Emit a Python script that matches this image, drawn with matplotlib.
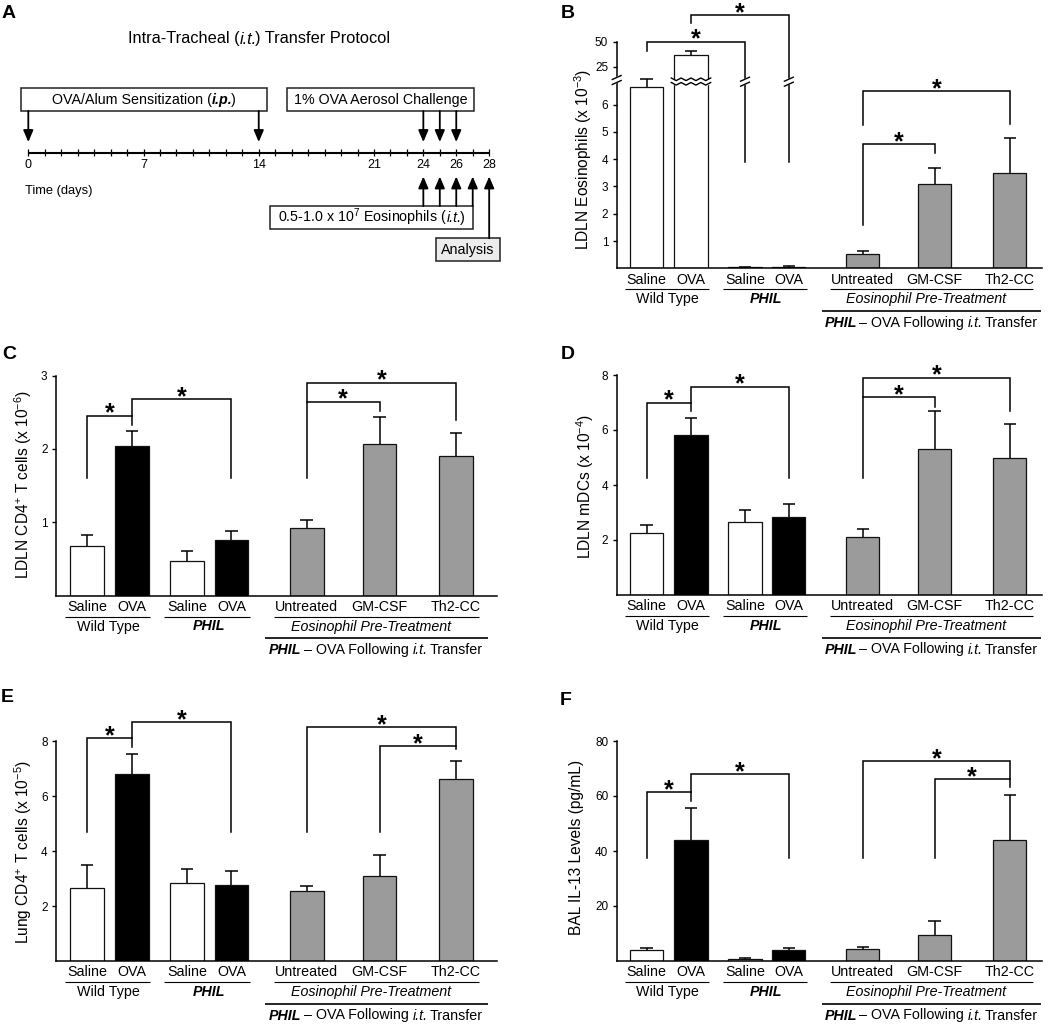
import numpy as np
import matplotlib
matplotlib.use('Agg')
import matplotlib.pyplot as plt
from matplotlib.patches import Rectangle
from matplotlib.transforms import ScaledTranslation, Affine2D, blended_transform_factory

plt.rcParams['font.family'] = ['Liberation Sans', 'DejaVu Sans']
plt.rcParams['mathtext.fontset'] = 'custom'
plt.rcParams['mathtext.rm'] = 'Liberation Sans'
plt.rcParams['mathtext.it'] = 'Liberation Sans:italic'
plt.rcParams['mathtext.bf'] = 'Liberation Sans:bold'
plt.rcParams['mathtext.sf'] = 'Liberation Sans'

# ---- data ----
conditions = ['Saline', 'OVA', 'Saline', 'OVA', 'Untreated', 'GM-CSF', 'Th2-CC']
group_names = ['Wild Type', 'PHIL', 'Eosinophil Pre-Treatment']

# protocol timeline (days)
sens_days = [0, 14]
challenge_days = [24, 25, 26]
transfer_days = [24, 25, 26, 27]
analysis_day = 28
day_labels = [0, 7, 14, 21, 24, 26, 28]

# B: LDLN eosinophils (x 10^-3)
eos_mean = [6.65, 36.7, 0.03, 0.05, 0.52, 3.08, 3.49]
eos_err = [0.27, 4.0, 0.02, 0.03, 0.12, 0.58, 1.27]
# C: LDLN CD4+ T cells (x 10^-6)
cd4_ldln_mean = [0.67, 2.04, 0.47, 0.76, 0.925, 2.07, 1.90]
cd4_ldln_err = [0.16, 0.20, 0.14, 0.12, 0.105, 0.37, 0.32]
# D: LDLN mDCs (x 10^-4)
mdc_mean = [2.24, 5.81, 2.67, 2.85, 2.12, 5.32, 4.97]
mdc_err = [0.31, 0.61, 0.42, 0.46, 0.27, 1.37, 1.26]
# E: lung CD4+ T cells (x 10^-5)
cd4_lung_mean = [2.66, 6.82, 2.85, 2.77, 2.55, 3.08, 6.63]
cd4_lung_err = [0.84, 0.72, 0.50, 0.51, 0.18, 0.78, 0.65]
# F: BAL IL-13 (pg/mL)
il13_mean = [4.0, 43.9, 0.6, 4.0, 4.24, 9.45, 44.0]
il13_err = [0.85, 11.8, 0.5, 0.6, 0.96, 5.05, 16.25]

# significance brackets: (bar i, bar j, top, left leg end, right leg end)
eos_sig = [(0, 2, 50, 41, 3.9), (1, 3, 76.7, 68.4, 3.9), (4, 6, 6.49, 5.25, 5.29), (4, 5, 4.55, 1.59, 4.21)]
cd4_ldln_sig = [(0, 1, 2.45, 1.60, 2.33), (1, 3, 2.68, 2.45, 1.60), (4, 5, 2.64, 1.60, 2.52), (4, 6, 2.90, 2.64, 2.39)]
mdc_sig = [(0, 1, 7.0, 4.27, 6.70), (1, 3, 7.58, 7.0, 4.27), (4, 5, 7.19, 4.27, 6.85), (4, 6, 7.90, 7.19, 6.70)]
cd4_lung_sig = [(0, 1, 8.11, 4.71, 7.80), (1, 3, 8.70, 8.11, 4.71), (4, 6, 8.52, 4.71, 7.83), (5, 6, 7.83, 4.71, 7.71)]
il13_sig = [(0, 1, 61.3, 37.6, 58.2), (1, 3, 68.0, 61.3, 37.6), (4, 6, 72.6, 37.6, 66.1), (5, 6, 66.1, 37.6, 63.2)]

# ---- layout ----
W, H = 1050, 1025
fig = plt.figure(figsize=(W / 100, H / 100), dpi=100)
renderer = fig.canvas.get_renderer()
pos = np.array([0, 1, 2.22, 3.21, 4.88, 6.5, 8.2])
bw = 0.75
GREY = '#9b9b9b'
colors_std = ['white', 'black', 'white', 'black', GREY, GREY, GREY]
colors_eos = ['white', 'white', 'black', 'black', GREY, GREY, GREY]
REG = {}
IT = {'fontstyle': 'italic'}
BI = {'fontstyle': 'italic', 'fontweight': 'bold'}


def px_axes(x0, x1, ytop, ybot):
    return fig.add_axes([x0 / W, 1 - ybot / H, (x1 - x0) / W, (ybot - ytop) / H])


def rich(ax, xy, xycoords, pieces, dy=0, fontsize=10.3):
    # pieces: (text, style, space before) laid out side by side, centred on xy
    sp = 0.278 * fontsize * 100 / 72
    texts, widths = [], []
    for s, st, gap in pieces:
        t = ax.annotate(s, xy=xy, xycoords=xycoords, xytext=(0, -dy), textcoords='offset pixels',
                        ha='left', va='center', fontsize=fontsize, annotation_clip=False, **st)
        texts.append(t)
        w = t.get_window_extent(renderer).width + (sp if gap else 0)
        if st.get('fontstyle') == 'italic':
            w -= 2.0
        widths.append(w)
    x = -sum(widths) / 2
    for t, w, (s, st, gap) in zip(texts, widths, pieces):
        t.xyann = (x + (sp if gap else 0), -dy)
        x += w


def below_text(ax, x, dy, s, **kw):
    ax.annotate(s, xy=(x, 0), xycoords=('data', 'axes fraction'), xytext=(0, -dy),
                textcoords='offset pixels', ha='center', va='center', fontsize=10.3,
                annotation_clip=False, **kw)


def below_line(ax, x0, x1, dy, lw):
    tr = ax.get_xaxis_transform() + ScaledTranslation(0, -dy / 100, fig.dpi_scale_trans)
    ax.plot([x0, x1], [0, 0], transform=tr, color='black', lw=lw, clip_on=False,
            solid_capstyle='butt')


def bar_panel(ax, means, errs, colors, sig, yticks, ylim, xlim, ylabel, lab_xy, box):
    means = np.array(means)
    tops = means + np.array(errs)
    ax.bar(pos, means, width=bw, color=colors, edgecolor='#111111', linewidth=0.9, zorder=2)
    ax.vlines(pos, means, tops, color='black', lw=1.1, zorder=1)
    ax.hlines(tops, pos - 0.14, pos + 0.14, color='black', lw=1.1, zorder=1)
    ax.set_xlim(xlim)
    ax.set_ylim(ylim)
    ax.set_xticks([])
    ax.set_yticks(yticks)
    ax.tick_params(axis='y', direction='out', length=3.1, width=1.0, labelsize=8.5, pad=3)
    for s in ['top', 'right']:
        ax.spines[s].set_visible(False)
    for s in ['left', 'bottom']:
        ax.spines[s].set_linewidth(1.1)

    for i, j, top, l, r in sig:
        ax.plot([pos[i], pos[i], pos[j], pos[j]], [l, top, top, r], color='black', lw=1.1,
                clip_on=False, solid_joinstyle='miter', zorder=3)
        ax.annotate('*', xy=((pos[i] + pos[j]) / 2, top), xytext=(0, -3.5),
                    textcoords='offset points', ha='center', va='baseline', fontsize=18,
                    fontweight='bold', annotation_clip=False)

    # category / group labels under the x axis
    for x, c in zip(pos, conditions):
        below_text(ax, x, 11.5, c)
    below_line(ax, -0.48, 1.40, 21, 0.8)
    below_line(ax, 1.72, 3.62, 21, 0.8)
    below_line(ax, 4.15, 8.72, 21, 0.8)
    below_text(ax, 0.47, 31, group_names[0])
    below_text(ax, 2.70, 31, group_names[1], **BI)
    below_text(ax, 6.32, 31, group_names[2], **IT)
    below_line(ax, 3.95, 8.90, 42.5, 1.2)
    rich(ax, (6.42, 0), ('data', 'axes fraction'),
         [('PHIL', BI, False), ('–', REG, True), ('OVA Following', REG, True),
          ('i.t.', IT, True), ('Transfer', REG, True)], dy=54.5)

    x0, x1, ytop, ybot = box
    ax.set_ylabel(ylabel, fontsize=11.2, va='center')
    ax.yaxis.set_label_coords((lab_xy[0] - x0) / (x1 - x0), (ybot - lab_xy[1]) / (ybot - ytop))


def panel_letter(s, x, y):
    fig.text(x / W, 1 - y / H, s, fontsize=14, fontweight='bold', va='baseline', ha='left')


# ---- A: protocol ----
axA = px_axes(0, 520, 0, 300)
day_px = 16.46
axA.set_xlim(-28.3 / day_px, (520 - 28.3) / day_px)
axA.set_ylim(300, 0)
axA.axis('off')
ty = 152.7
axA.plot([0, 28], [ty, ty], color='black', lw=1.5, solid_capstyle='butt')
axA.vlines(np.arange(0, 29), ty - 4, ty + 3.5, color='black', lw=0.9)
for d in day_labels:
    axA.text(d, 165, str(d), ha='center', va='center', fontsize=9)
axA.text(-0.2, 191, 'Time (days)', ha='left', va='center', fontsize=9.3)
rich(axA, (14.0, 39), 'data', [('Intra-Tracheal (', REG, False), ('i.t.', IT, False),
                               (') Transfer Protocol', REG, False)], fontsize=11.8)


def proto_box(d0, d1, y0, y1, pieces, fc='white'):
    axA.add_patch(Rectangle((d0, y0), d1 - d0, y1 - y0, fc=fc, ec='#222222', lw=1.1))
    rich(axA, ((d0 + d1) / 2, (y0 + y1) / 2), 'data', pieces)


proto_box(-0.46, 14.48, 88.3, 111, [('OVA/Alum Sensitization (', REG, False), ('i.p.', BI, False),
                                     (')', REG, False)])
proto_box(15.74, 27.08, 88.3, 111, [('1% OVA Aerosol Challenge', REG, False)])
proto_box(14.68, 27.03, 206, 229.3, [(r'0.5-1.0 x 10$^7$ Eosinophils (', REG, False),
                                      ('i.t.', IT, False), (')', REG, False)])
proto_box(24.77, 28.66, 238.3, 261, [('Analysis', REG, False)], fc='#ececec')

arrow = dict(arrowstyle='-|>,head_length=0.7,head_width=0.3', lw=1.3, color='black',
             shrinkA=0, shrinkB=0, mutation_scale=10)
for d in sens_days + challenge_days:
    axA.annotate('', xy=(d, 142), xytext=(d, 111), arrowprops=arrow)
for d in transfer_days:
    axA.annotate('', xy=(d, 176.5), xytext=(d, 206), arrowprops=arrow)
axA.annotate('', xy=(analysis_day, 176.5), xytext=(analysis_day, 238.3), arrowprops=arrow)

# ---- B: broken axis via piecewise scale ----
boxB = (616.7, 1041.7, 41.7, 268.3)
axB = px_axes(*boxB)
brk_v = [-100, 0, 7, 15, 1000]
brk_f = [-2730, 0, 191.1, 191.6, 1176.6]
fwd = lambda v: np.interp(v, brk_v, brk_f)
inv = lambda f: np.interp(f, brk_f, brk_v)
axB.set_yscale('function', functions=(fwd, inv))
xl_right = (-0.677, 8.92)
bar_panel(axB, eos_mean, eos_err, colors_eos, eos_sig, [1, 2, 3, 4, 5, 6, 25, 50], (0, 50),
          xl_right, r'LDLN Eosinophils (x 10$^{-3}$)', (583, 159), boxB)
axB.yaxis.set_minor_locator(matplotlib.ticker.NullLocator())
axB.yaxis.set_major_formatter(matplotlib.ticker.FormatStrFormatter('%d'))

# transform: x in data, y in pixels above the axis base
ptr = blended_transform_factory(axB.transData, Affine2D().scale(1, 1 / fwd(50)) + axB.transAxes)


def slash_break(xc, yc, half=0.1):
    xs = [xc - half, xc + half, xc + half, xc - half]
    axB.fill(xs, [yc - 4.5, yc - 0.5, yc + 4.5, yc + 0.5], color='white', transform=ptr,
             zorder=6, clip_on=False)
    for dy in (-2.5, 2.5):
        axB.plot([xc - half, xc + half], [yc + dy - 2, yc + dy + 2], color='black', lw=1.0,
                 transform=ptr, zorder=7, clip_on=False)


slash_break(xl_right[0], 188.3)
slash_break(pos[2], 186.6)
slash_break(pos[3], 186.6)
zx = np.linspace(pos[1] - 0.445, pos[1] + 0.445, 9)
zz = np.array([1.3, -1.3] * 5)[:9]
axB.fill_between(zx, 184.5 + zz, 189 + zz, color='white', transform=ptr, zorder=6)
axB.plot(zx, 189 + zz, color='black', lw=1.0, transform=ptr, zorder=7)
axB.plot(zx, 184.5 + zz, color='black', lw=1.0, transform=ptr, zorder=7)

# ---- C-F ----
xl_left = (-0.689, 9.11)
boxC = (56, 497, 375.5, 595.5)
bar_panel(px_axes(*boxC), cd4_ldln_mean, cd4_ldln_err, colors_std, cd4_ldln_sig, [1, 2, 3],
          (0, 3), xl_left, r'LDLN CD4$^{+}$ T cells (x 10$^{-6}$)', (23, 484), boxC)
boxD = (616.7, 1041.7, 375, 595)
bar_panel(px_axes(*boxD), mdc_mean, mdc_err, colors_std, mdc_sig, [2, 4, 6, 8],
          (0, 8), xl_right, r'LDLN mDCs (x 10$^{-4}$)', (585, 486), boxD)
boxE = (56, 497, 741.3, 961)
bar_panel(px_axes(*boxE), cd4_lung_mean, cd4_lung_err, colors_std, cd4_lung_sig, [2, 4, 6, 8],
          (0, 8), xl_left, r'Lung CD4$^{+}$ T cells (x 10$^{-5}$)', (23, 851.7), boxE)
boxF = (616.7, 1041.7, 741, 961)
bar_panel(px_axes(*boxF), il13_mean, il13_err, colors_std, il13_sig, [20, 40, 60, 80],
          (0, 80), xl_right, 'BAL IL-13 Levels (pg/mL)', (577, 847), boxF)

panel_letter('A', 2, 18)
panel_letter('B', 561, 18)
panel_letter('C', 2, 359)
panel_letter('D', 561, 359)
panel_letter('E', 1, 702)
panel_letter('F', 560, 705)

fig.savefig('out.png', dpi=100)
